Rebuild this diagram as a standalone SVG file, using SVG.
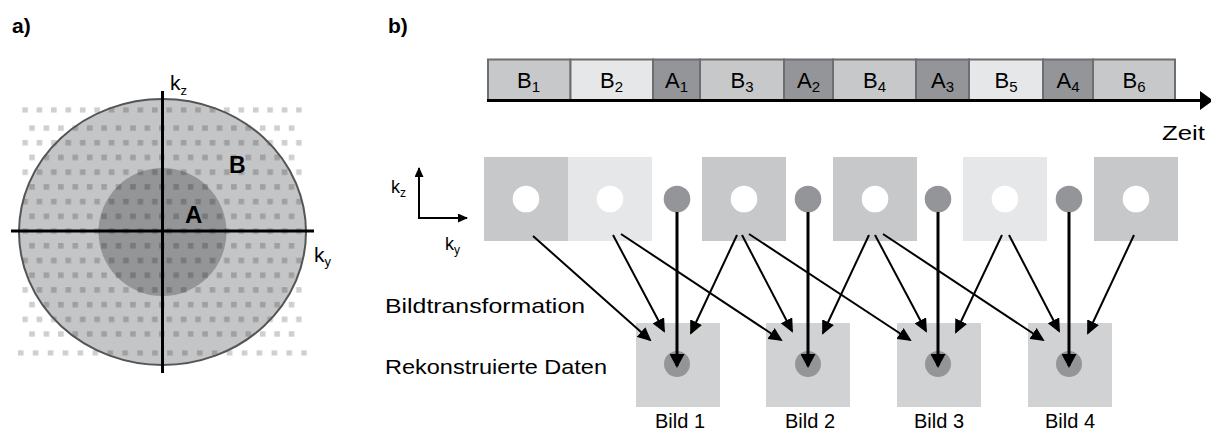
<svg xmlns="http://www.w3.org/2000/svg" width="1211" height="434" viewBox="0 0 1211 434">
<style>
text{font-family:"Liberation Sans",Arial,sans-serif;fill:#000}
.lbl{font-size:22px}
.sub{font-size:15px}
.bold{font-weight:bold}
.bild{font-size:20px}
.seg{stroke:#6d6e70;stroke-width:2}
.bm{fill:#c7c8ca}
.bl{fill:#e6e7e8}
.aa{fill:#939598}
.conn{stroke:#000;stroke-width:2;fill:none;marker-end:url(#ah)}
.stem{stroke:#000;stroke-width:3;fill:none;marker-end:url(#ahs)}
.dot{fill:#000;fill-opacity:0.19}
</style>
<defs>
<marker id="ah" markerUnits="userSpaceOnUse" viewBox="0 0 14 13" refX="12" refY="6.5" markerWidth="14" markerHeight="13" orient="auto"><path d="M0,0 L14,6.5 L0,13 z" fill="#000"/></marker>
<marker id="ahs" markerUnits="userSpaceOnUse" viewBox="0 0 14 15" refX="12" refY="7.5" markerWidth="14" markerHeight="15" orient="auto"><path d="M0,0 L14,7.5 L0,15 z" fill="#000"/></marker>
<marker id="ahk" markerUnits="userSpaceOnUse" viewBox="0 0 10 9" refX="9" refY="4.5" markerWidth="10" markerHeight="9" orient="auto"><path d="M0,0 L10,4.5 L0,9 z" fill="#000"/></marker>
<pattern id="pMain" patternUnits="userSpaceOnUse" x="29.2" y="125.2" width="14.42" height="29.44"><rect class="dot" x="0" y="0" width="5.6" height="5.6"/><rect class="dot" x="7.42" y="14.72" width="5.6" height="5.6"/></pattern>
<pattern id="pTop" patternUnits="userSpaceOnUse" x="22.2" y="107.2" width="14.42" height="10"><rect class="dot" x="0" y="0" width="5.6" height="5.6"/></pattern>
<pattern id="pBot" patternUnits="userSpaceOnUse" x="17.9" y="350.2" width="14.92" height="10"><rect class="dot" x="0" y="0" width="5.6" height="5.6"/></pattern>
</defs>

<!-- Panel a -->
<g id="panel-a">
<text x="12" y="33" class="bold" font-size="21">a)</text>
<ellipse id="regionB" cx="162.5" cy="232" rx="143.5" ry="133" fill="#c4c5c7"/>
<circle id="regionA" cx="162.5" cy="232" r="64" fill="#949597"/>
<rect x="22.2" y="107.2" width="279.6" height="5.6" fill="url(#pTop)"/>
<rect x="22.2" y="125.2" width="279.6" height="211.7" fill="url(#pMain)"/>
<rect x="17.9" y="350.2" width="289.1" height="5.6" fill="url(#pBot)"/>
<ellipse cx="162.5" cy="232" rx="143.5" ry="133" fill="none" stroke="#555" stroke-width="2"/>
<line x1="162.5" y1="91" x2="162.5" y2="373" stroke="#000" stroke-width="3"/>
<line x1="11" y1="231" x2="314" y2="231" stroke="#000" stroke-width="3"/>
<text x="170" y="90" font-size="21">k<tspan font-size="13" dy="5">z</tspan></text>
<text x="314" y="262" font-size="21">k<tspan font-size="13" dy="4">y</tspan></text>
<text x="229" y="173" class="bold" font-size="23">B</text>
<text x="185" y="223" class="bold" font-size="24">A</text>
</g>

<!-- Panel b -->
<text x="388" y="33" class="bold" font-size="21">b)</text>

<g id="timeline">
<rect class="seg bm" x="488" y="59.5" width="82.5" height="41"/>
<rect class="seg bl" x="570.5" y="59.5" width="82.5" height="41"/>
<rect class="seg aa" x="653" y="59.5" width="47" height="41"/>
<rect class="seg bm" x="700" y="59.5" width="84" height="41"/>
<rect class="seg aa" x="784" y="59.5" width="49" height="41"/>
<rect class="seg bm" x="833" y="59.5" width="83" height="41"/>
<rect class="seg aa" x="916" y="59.5" width="53" height="41"/>
<rect class="seg bl" x="969" y="59.5" width="74" height="41"/>
<rect class="seg aa" x="1043" y="59.5" width="50" height="41"/>
<rect class="seg bm" x="1093" y="59.5" width="82" height="41"/>
<line x1="487" y1="100.5" x2="1202" y2="100.5" stroke="#000" stroke-width="3"/>
<path d="M1200,91 L1213,100.5 L1200,110 z" fill="#000"/>
<text class="lbl" x="528.5" y="88" text-anchor="middle">B<tspan class="sub" dy="4">1</tspan></text>
<text class="lbl" x="611.5" y="88" text-anchor="middle">B<tspan class="sub" dy="4">2</tspan></text>
<text class="lbl" x="676.5" y="88" text-anchor="middle">A<tspan class="sub" dy="4">1</tspan></text>
<text class="lbl" x="742" y="88" text-anchor="middle">B<tspan class="sub" dy="4">3</tspan></text>
<text class="lbl" x="808.5" y="88" text-anchor="middle">A<tspan class="sub" dy="4">2</tspan></text>
<text class="lbl" x="874.5" y="88" text-anchor="middle">B<tspan class="sub" dy="4">4</tspan></text>
<text class="lbl" x="942.5" y="88" text-anchor="middle">A<tspan class="sub" dy="4">3</tspan></text>
<text class="lbl" x="1006" y="88" text-anchor="middle">B<tspan class="sub" dy="4">5</tspan></text>
<text class="lbl" x="1068" y="88" text-anchor="middle">A<tspan class="sub" dy="4">4</tspan></text>
<text class="lbl" x="1134" y="88" text-anchor="middle">B<tspan class="sub" dy="4">6</tspan></text>
<text x="1162" y="140" font-size="21" textLength="43" lengthAdjust="spacingAndGlyphs">Zeit</text>
</g>

<g id="k-axes">
<line x1="419" y1="218" x2="419" y2="168" stroke="#000" stroke-width="2" marker-end="url(#ahk)"/>
<line x1="418" y1="218" x2="467" y2="218" stroke="#000" stroke-width="2" marker-end="url(#ahk)"/>
<text x="391" y="193" font-size="18">k<tspan font-size="12" dy="4">z</tspan></text>
<text x="445" y="250" font-size="18">k<tspan font-size="12" dy="4">y</tspan></text>
</g>

<g id="sq-B1"><rect class="bm" x="484" y="157" width="84" height="84"/><circle cx="526" cy="199" r="13.3" fill="#fff"/></g>
<g id="sq-B2"><rect class="bl" x="568" y="157" width="84" height="84"/><circle cx="610" cy="199" r="13.3" fill="#fff"/></g>
<g id="dot-A1"><circle class="aa" cx="677" cy="199" r="13.3"/></g>
<g id="sq-B3"><rect class="bm" x="702" y="157" width="84" height="84"/><circle cx="744" cy="199" r="13.3" fill="#fff"/></g>
<g id="dot-A2"><circle class="aa" cx="808" cy="199" r="13.3"/></g>
<g id="sq-B4"><rect class="bm" x="833" y="157" width="84" height="84"/><circle cx="875" cy="199" r="13.3" fill="#fff"/></g>
<g id="dot-A3"><circle class="aa" cx="938" cy="199" r="13.3"/></g>
<g id="sq-B5"><rect class="bl" x="963" y="157" width="84" height="84"/><circle cx="1005" cy="199" r="13.3" fill="#fff"/></g>
<g id="dot-A4"><circle class="aa" cx="1069" cy="199" r="13.3"/></g>
<g id="sq-B6"><rect class="bm" x="1094" y="157" width="84" height="84"/><circle cx="1136" cy="199" r="13.3" fill="#fff"/></g>

<g id="bild1"><rect x="636" y="323" width="84" height="84" fill="#d1d2d4"/><circle class="aa" cx="677" cy="364" r="13"/><text class="bild" x="655" y="428" textLength="50" lengthAdjust="spacingAndGlyphs">Bild 1</text></g>
<g id="bild2"><rect x="766" y="323" width="84" height="84" fill="#d1d2d4"/><circle class="aa" cx="808" cy="364" r="13"/><text class="bild" x="785" y="428" textLength="50" lengthAdjust="spacingAndGlyphs">Bild 2</text></g>
<g id="bild3"><rect x="897" y="323" width="84" height="84" fill="#d1d2d4"/><circle class="aa" cx="938" cy="364" r="13"/><text class="bild" x="914" y="428" textLength="50" lengthAdjust="spacingAndGlyphs">Bild 3</text></g>
<g id="bild4"><rect x="1028" y="323" width="84" height="84" fill="#d1d2d4"/><circle class="aa" cx="1069" cy="364" r="13"/><text class="bild" x="1045" y="428" textLength="50" lengthAdjust="spacingAndGlyphs">Bild 4</text></g>

<text x="385" y="313" font-size="21" textLength="200" lengthAdjust="spacingAndGlyphs">Bildtransformation</text>
<text x="385" y="374" font-size="21" textLength="222" lengthAdjust="spacingAndGlyphs">Rekonstruierte Daten</text>

<g id="connectors">
<line class="conn" x1="533" y1="236" x2="650" y2="340"/>
<line class="conn" x1="613" y1="235" x2="664" y2="331"/>
<line class="conn" x1="621" y1="234" x2="781" y2="340"/>
<line class="conn" x1="737" y1="235" x2="691" y2="333"/>
<line class="conn" x1="742" y1="235" x2="792" y2="331"/>
<line class="conn" x1="749" y1="234" x2="910" y2="340"/>
<line class="conn" x1="869" y1="235" x2="823" y2="333"/>
<line class="conn" x1="875" y1="235" x2="926" y2="331"/>
<line class="conn" x1="883" y1="234" x2="1043" y2="340"/>
<line class="conn" x1="1002" y1="235" x2="956" y2="332"/>
<line class="conn" x1="1009" y1="235" x2="1059" y2="331"/>
<line class="conn" x1="1134" y1="235" x2="1088" y2="333"/>
<line class="stem" x1="677" y1="212" x2="677" y2="366"/>
<line class="stem" x1="808" y1="212" x2="808" y2="366"/>
<line class="stem" x1="938" y1="212" x2="938" y2="366"/>
<line class="stem" x1="1069" y1="212" x2="1069" y2="366"/>
</g>
</svg>
